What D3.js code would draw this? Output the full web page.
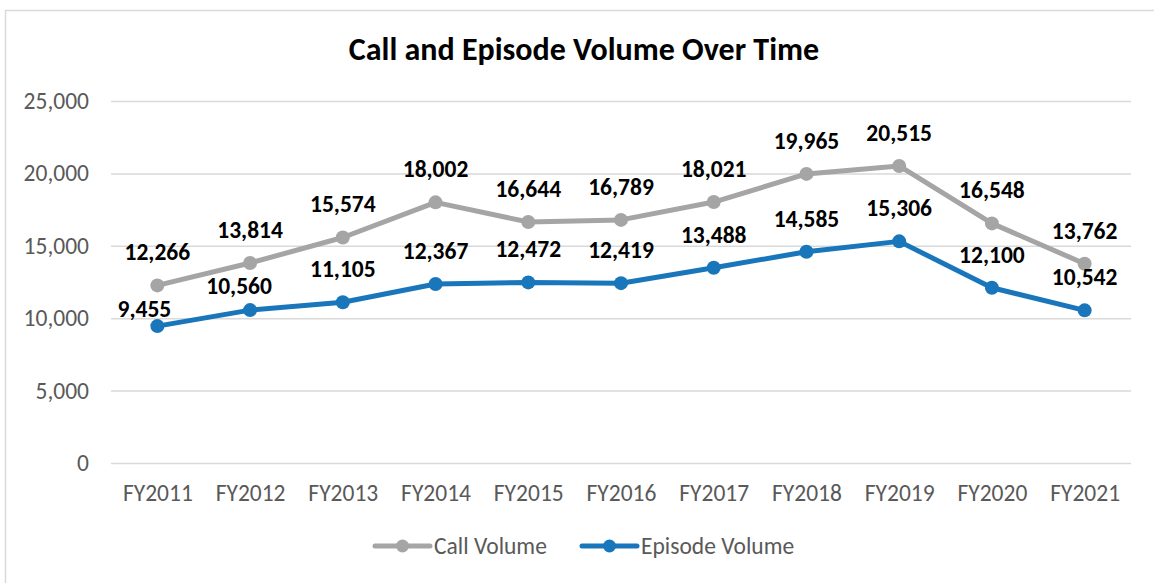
<!DOCTYPE html>
<html>
<head>
<meta charset="utf-8">
<script src="https://cdn.jsdelivr.net/npm/d3@7"></script>
<style>
  body { margin: 0; background: #fff; }
  text { font-family: Carlito, Calibri, Lato, sans-serif; }
</style>
</head>
<body>
<script>
// chart data
var years = ["FY2011", "FY2012", "FY2013", "FY2014", "FY2015", "FY2016",
             "FY2017", "FY2018", "FY2019", "FY2020", "FY2021"];
var callVolume = [12266, 13814, 15574, 18002, 16644, 16789, 18021, 19965, 20515, 16548, 13762];
var episodeVolume = [9455, 10560, 11105, 12367, 12472, 12419, 13488, 14585, 15306, 12100, 10542];
var yTicks = [0, 5000, 10000, 15000, 20000, 25000];

var w = 1154, h = 583;
var margin = {left: 111, right: 23, top: 101, bottom: 120};

var svg = d3.select("body").append("svg")
  .attr("width", w)
  .attr("height", h);

// chart area border (only top and left show in the picture)
svg.append("path")
  .attr("d", "M5.5," + (h + 2) + "V10.5H" + (w + 2))
  .attr("fill", "none")
  .attr("stroke", "#d9d9d9")
  .attr("stroke-width", 1.5);

var x = d3.scalePoint()
  .domain(years)
  .range([margin.left, w - margin.right])
  .padding(0.5);

var y = d3.scaleLinear()
  .domain([0, 25000])
  .range([h - margin.bottom, margin.top]);

// title
svg.append("text")
  .attr("x", 584)
  .attr("y", 60)
  .attr("text-anchor", "middle")
  .attr("font-size", 32)
  .attr("font-weight", "bold")
  .attr("fill", "#000")
  .text("Call and Episode Volume Over Time");

// y gridlines + labels
var yAxis = d3.axisLeft(y)
  .tickValues(yTicks)
  .tickSize(-(w - margin.left - margin.right))
  .tickPadding(22)
  .tickFormat(d3.format(","));

var gy = svg.append("g")
  .attr("transform", "translate(" + margin.left + ",0)")
  .call(yAxis);
gy.select(".domain").remove();
gy.selectAll(".tick line").attr("stroke", "#d9d9d9").attr("stroke-width", 1.5);
gy.selectAll(".tick text")
  .attr("font-size", 23.5)
  .attr("fill", "#595959");

// x labels
var xAxis = d3.axisBottom(x).tickSize(0).tickPadding(21);
var gx = svg.append("g")
  .attr("transform", "translate(0," + y(0) + ")")
  .call(xAxis);
gx.select(".domain").remove();
gx.selectAll(".tick text")
  .attr("font-size", 23.5)
  .attr("fill", "#595959");

var series = [
  {name: "Call Volume", values: callVolume, color: "#a5a5a5"},
  {name: "Episode Volume", values: episodeVolume, color: "#1a76bb"}
];

// manual label nudges for the two crowded labels at the left
var labelShift = {
  "Episode Volume": [[-13, 16], [-11, 9], [0, 0], [0, 0], [0, 0], [0, 0], [0, 0], [0, 0], [0, 0], [0, 0], [0, 0]],
  "Call Volume": [[0, 0], [0, 0], [0, 0], [0, 0], [0, 0], [0, 0], [0, 0], [0, 0], [0, 0], [0, 0], [0, 0]]
};

var line = d3.line()
  .x(function (d, i) { return x(years[i]); })
  .y(function (d) { return y(d); });

series.forEach(function (s) {
  var g = svg.append("g");
  g.append("path")
    .datum(s.values)
    .attr("d", line)
    .attr("fill", "none")
    .attr("stroke", s.color)
    .attr("stroke-width", 5)
    .attr("stroke-linejoin", "round")
    .attr("stroke-linecap", "round");

  g.selectAll("circle")
    .data(s.values)
    .enter().append("circle")
    .attr("cx", function (d, i) { return x(years[i]); })
    .attr("cy", function (d) { return y(d); })
    .attr("r", 7)
    .attr("fill", s.color);
});

// data labels on top of everything
series.forEach(function (s) {
  svg.append("g").selectAll("text")
    .data(s.values)
    .enter().append("text")
    .attr("x", function (d, i) { return x(years[i]) + labelShift[s.name][i][0]; })
    .attr("y", function (d, i) { return y(d) - 25 + labelShift[s.name][i][1]; })
    .attr("text-anchor", "middle")
    .attr("font-size", 23.5)
    .attr("font-weight", "bold")
    .attr("fill", "#000")
    .text(function (d) { return d3.format(",")(d); });
});

// legend
var legendItems = [
  {name: "Call Volume", color: "#a5a5a5", x: 375},
  {name: "Episode Volume", color: "#1a76bb", x: 582}
];
var legend = svg.append("g").selectAll("g")
  .data(legendItems)
  .enter().append("g")
  .attr("transform", function (d) { return "translate(" + d.x + ",546)"; });

legend.append("line")
  .attr("x1", 0).attr("x2", 55)
  .attr("stroke", function (d) { return d.color; })
  .attr("stroke-width", 5)
  .attr("stroke-linecap", "round");
legend.append("circle")
  .attr("cx", 27.5)
  .attr("r", 6.5)
  .attr("fill", function (d) { return d.color; });
legend.append("text")
  .attr("x", 59)
  .attr("y", 8)
  .attr("font-size", 23.5)
  .attr("fill", "#595959")
  .text(function (d) { return d.name; });
</script>
</body>
</html>
